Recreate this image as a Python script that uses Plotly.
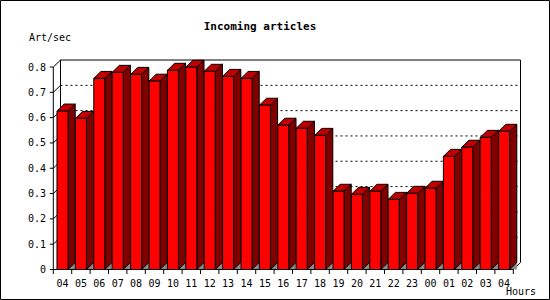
import plotly.graph_objects as go

# ---------------- data ----------------
hours = ["04", "05", "06", "07", "08", "09", "10", "11", "12", "13", "14", "15",
         "16", "17", "18", "19", "20", "21", "22", "23", "00", "01", "02", "03", "04"]
rate = [0.626, 0.597, 0.755, 0.779, 0.771, 0.744, 0.787, 0.799, 0.783, 0.763,
        0.755, 0.649, 0.570, 0.558, 0.530, 0.309, 0.297, 0.309, 0.277, 0.301,
        0.321, 0.447, 0.483, 0.522, 0.546]
y_ticks = [0, 0.1, 0.2, 0.3, 0.4, 0.5, 0.6, 0.7, 0.8]
y_tick_text = ["0", "0.1", "0.2", "0.3", "0.4", "0.5", "0.6", "0.7", "0.8"]
grid_levels = [0.1, 0.2, 0.3, 0.4, 0.5, 0.6, 0.7]

# ---------------- layout geometry (pixels) ----------------
W, H = 550, 300
ML, MR, MT, MB = 47, 27, 57, 24
PW, PH = W - ML - MR, H - MT - MB
AX_X0 = 53.3        # front y-axis
AX_Y0 = 269.5       # zero line
CAT_PX = 18.4       # px per category
UNIT_PX = 253.1     # px per 1.0 of value
DEPTH_X, DEPTH_Y = 7.2, 7.0

xmin = -0.5 - (AX_X0 - ML) / CAT_PX
xmax = xmin + PW / CAT_PX
ymin = -((H - MB) - AX_Y0) / UNIT_PX
ymax = ymin + PH / UNIT_PX
dx = DEPTH_X / CAT_PX
dy = DEPTH_Y / UNIT_PX
half = 0.3
n = len(rate)
x_end = n - 0.5
y_top = y_ticks[-1]

FONT = "DejaVu Sans Mono"
RED, SIDE, TOP, FLOOR = "#ff0000", "#800000", "#c00000", "#8a8a8a"

def px_to_paper_x(px):
    return (px - ML) / PW

def px_to_paper_y(py):
    return ((H - MB) - py) / PH

fig = go.Figure()

def line(xs, ys, dash="solid", width=1, color="black"):
    fig.add_trace(go.Scatter(x=xs, y=ys, mode="lines", hoverinfo="skip",
                             line=dict(color=color, width=width, dash=dash),
                             showlegend=False))

def poly(xs, ys, fill, outline="black"):
    fig.add_trace(go.Scatter(x=xs, y=ys, mode="lines", fill="toself",
                             fillcolor=fill, hoverinfo="skip",
                             line=dict(color=outline, width=1),
                             showlegend=False))

# ---- back panel: grid ----
gx, gy, hx, hy = [], [], [], []
for lv in grid_levels:
    gx += [-0.5, -0.5 + dx, None]
    gy += [lv, lv + dy, None]
    hx += [-0.5 + dx, x_end + dx, None]
    hy += [lv + dy, lv + dy, None]
line(gx, gy)
line(hx, hy, dash="2px,3px")
# back frame
line([-0.5 + dx, -0.5 + dx, x_end + dx, x_end + dx],
     [dy, y_top + dy, y_top + dy, dy])
line([-0.5, -0.5 + dx], [y_top, y_top + dy])
line([x_end, x_end + dx], [0, dy])

# ---- bars ----
fx, fy, sx, sy, tx, ty, flx, fly = [], [], [], [], [], [], [], []
for i, v in enumerate(rate):
    c = i
    flx += [c + half, c + half + dx, c + half + dx, c + half, None]
    fly += [0, dy, 0, 0, None]
    sx += [c + half, c + half, c + half + dx, c + half + dx, c + half, None]
    sy += [0, v, v + dy, dy, 0, None]
    tx += [c - half, c + half, c + half + dx, c - half + dx, c - half, None]
    ty += [v, v, v + dy, v + dy, v, None]
    fx += [c - half, c + half, c + half, c - half, c - half, None]
    fy += [0, 0, v, v, 0, None]
poly(flx, fly, FLOOR, outline="rgba(0,0,0,0)")
poly(sx, sy, SIDE)
poly(tx, ty, TOP)
poly(fx, fy, RED)

# ---- front axes ----
line([-0.5, -0.5], [0, y_top])
line([-0.5, x_end], [0, 0])
ytx, yty = [], []
for t in y_ticks:
    ytx += [-0.5 - 3.5 / CAT_PX, -0.5, None]
    yty += [t, t, None]
line(ytx, yty)
xtx, xty = [], []
for k in range(n + 1):
    xtx += [k - 0.5, k - 0.5, None]
    xty += [0, -4.5 / UNIT_PX, None]
line(xtx, xty)

fig.update_layout(
    width=W, height=H,
    margin=dict(l=ML, r=MR, t=MT, b=MB, pad=0),
    paper_bgcolor="white", plot_bgcolor="white",
    font=dict(family=FONT, size=10, color="black"),
    title=dict(text="<b>Incoming articles</b>", x=260 / W, xanchor="center",
               y=1 - 26.5 / H, yanchor="middle",
               font=dict(family=FONT, size=11, color="black")),
    xaxis=dict(range=[xmin, xmax], showgrid=False, zeroline=False, showline=False,
               tickmode="array", tickvals=list(range(n)), ticktext=hours,
               ticks="", tickfont=dict(family=FONT, size=10, color="black"),
               fixedrange=True),
    yaxis=dict(range=[ymin, ymax], showgrid=False, zeroline=False, showline=False,
               tickmode="array", tickvals=y_ticks, ticktext=y_tick_text,
               ticks="", tickfont=dict(family=FONT, size=10, color="black"),
               fixedrange=True),
    showlegend=False,
)

fig.add_annotation(text="Art/sec", xref="paper", yref="paper",
                   x=px_to_paper_x(27), y=px_to_paper_y(37.5),
                   xanchor="left", yanchor="middle", showarrow=False,
                   font=dict(family=FONT, size=10, color="black"))
fig.add_annotation(text="Hours", xref="paper", yref="paper",
                   x=px_to_paper_x(503.5), y=px_to_paper_y(291.5),
                   xanchor="left", yanchor="middle", showarrow=False,
                   font=dict(family=FONT, size=10, color="black"))
fig.add_shape(type="rect", xref="paper", yref="paper",
              x0=px_to_paper_x(0.5), x1=px_to_paper_x(549.5),
              y0=px_to_paper_y(299.5), y1=px_to_paper_y(0.5),
              line=dict(color="black", width=1), fillcolor="rgba(0,0,0,0)")

fig.write_html("out.html")
